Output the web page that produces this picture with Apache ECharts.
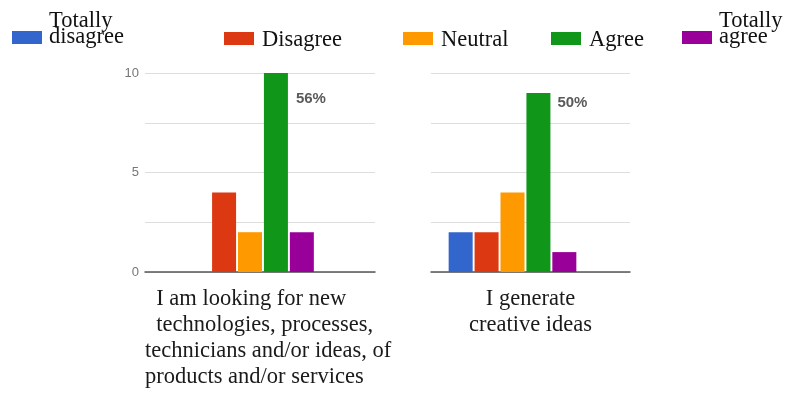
<!DOCTYPE html>
<html>
<head>
<meta charset="utf-8">
<script src="https://cdn.jsdelivr.net/npm/echarts@6/dist/echarts.min.js"></script>
<style>
  html, body { margin: 0; padding: 0; background: #ffffff; }
  #chart { width: 785px; height: 396px; }
</style>
</head>
<body>
<div id="chart"></div>
<script>
// Answer scale and its colours
const levels = ['Totally disagree', 'Disagree', 'Neutral', 'Agree', 'Totally agree'];
const levelColors = ['#3366cc', '#dc3912', '#ff9900', '#109618', '#990099'];

// Statement captions, one line per entry
const lookingLabel = ['  I am looking for new', '  technologies, processes,', 'technicians and/or ideas, of', 'products and/or services'];
const creativeLabel = ['I generate', 'creative ideas'];

// Number of answers for each level, in the order of `levels`
const lookingCounts = [0, 4, 2, 10, 2];
const creativeCounts = [2, 2, 4, 9, 1];

// Value axis
const yMin = 0;
const yMax = 10;
const yStep = 5;

const serif = 'Liberation Serif, Times New Roman, serif';
const sans = 'Liberation Sans, Arial, sans-serif';

const panels = [
  { counts: lookingCounts, lines: lookingLabel, frame: { left: 145, width: 230 }, bars: { left: 150, width: 200 },
    showY: true, pctPos: [32, 18], rich: true },
  { counts: creativeCounts, lines: creativeLabel, frame: { left: 431, width: 199 }, bars: { left: 432, width: 161 },
    showY: false, pctPos: [31, 2], rich: false }
];

const grids = [], xAxes = [], yAxes = [], series = [];
panels.forEach((p) => {
  const frameIdx = grids.length;
  grids.push({ left: p.frame.left, width: p.frame.width, top: 73, height: 199 });
  const barIdx = grids.length;
  grids.push({ left: p.bars.left, width: p.bars.width, top: 73, height: 199 });

  const captionText = p.rich
    ? p.lines.map(l => '{l|' + l + '}').join('\n')
    : p.lines.join('\n');

  xAxes.push({
    type: 'category', gridIndex: frameIdx, data: [captionText],
    axisLine: { show: true, lineStyle: { color: '#555555', width: 1.5 } },
    axisTick: { show: false },
    axisLabel: {
      interval: 0, margin: 14, color: '#1a1a1a', fontFamily: serif, fontSize: 22.5, lineHeight: 26,
      align: 'center',
      rich: { l: { width: 230, align: 'left', fontFamily: serif, fontSize: 22.5, lineHeight: 26, color: '#1a1a1a' } }
    }
  });
  xAxes.push({ type: 'category', gridIndex: barIdx, data: [''], show: false });

  yAxes.push({
    type: 'value', gridIndex: frameIdx, min: yMin, max: yMax, interval: yStep,
    axisLine: { show: false }, axisTick: { show: false },
    axisLabel: { show: p.showY, color: '#777777', fontFamily: sans, fontSize: 13, margin: 6 },
    splitLine: { show: true, lineStyle: { color: '#dddddd', width: 1 } },
    minorTick: { show: false, splitNumber: 2 },
    minorSplitLine: { show: true, lineStyle: { color: '#dddddd', width: 1 } }
  });
  yAxes.push({ type: 'value', gridIndex: barIdx, min: yMin, max: yMax, show: false, splitLine: { show: false } });

  const total = p.counts.reduce((a, b) => a + b, 0);
  const peak = p.counts.indexOf(Math.max(...p.counts));
  levels.forEach((name, i) => {
    const v = p.counts[i];
    const item = { value: v };
    if (i === peak) {
      item.label = {
        show: true, position: p.pctPos, color: '#5a5a5a', fontFamily: sans, fontSize: 15, fontWeight: 'bold',
        formatter: () => Math.round(v / total * 100) + '%'
      };
    }
    series.push({
      type: 'bar', name, xAxisIndex: barIdx, yAxisIndex: barIdx,
      data: [item], barWidth: 24, barGap: '8%',
      itemStyle: { color: levelColors[i] },
      emphasis: { disabled: true }
    });
  });
});

// One legend block per answer level, spread along the top.
// Two-word "Totally ..." names wrap, with the second word beside the swatch.
const legendLeft = [12, 224, 403, 551, 682];
const legendRich = {
  s: { fontFamily: serif, fontSize: 22.5, lineHeight: 22, color: '#111111', padding: [4, 0, 0, 3] },
  t: { fontFamily: serif, fontSize: 22.5, lineHeight: 16, color: '#111111', padding: [0, 0, 0, 2] },
  e: { fontFamily: serif, fontSize: 10, lineHeight: 16 }
};
const legends = levels.map((name, i) => {
  const twoLine = name.startsWith('Totally ');
  return {
    data: [name], left: legendLeft[i], top: twoLine ? 10 : 25, padding: 0,
    icon: 'rect', itemWidth: 30, itemHeight: 13, selectedMode: false,
    formatter: n => {
      if (!twoLine) return '{s|' + n + '}';
      const cut = n.indexOf(' ');
      return '{t|' + n.slice(0, cut) + '}\n{t|' + n.slice(cut + 1) + '}\n{e| }';
    },
    textStyle: { fontFamily: serif, fontSize: 22.5, color: '#111111', rich: legendRich }
  };
});

const chart = echarts.init(document.getElementById('chart'), null, { renderer: 'canvas' });
chart.setOption({
  animation: false,
  color: levelColors,
  legend: legends,
  grid: grids,
  xAxis: xAxes,
  yAxis: yAxes,
  series
});
</script>
</body>
</html>
